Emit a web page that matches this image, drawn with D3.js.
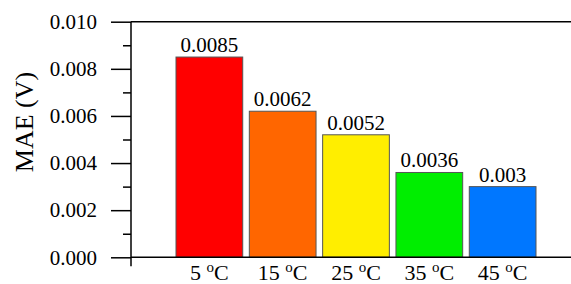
<!DOCTYPE html>
<html>
<head>
<meta charset="utf-8">
<script src="https://cdn.jsdelivr.net/npm/d3@7"></script>
<style>
    body { margin: 0; background: #fff; }
    text { font-family: "Liberation Serif", "Times New Roman", serif; fill: #000; }
    .axis-line { stroke: #000; stroke-width: 1.5; fill: none; }
    .bar { stroke: #555; stroke-width: 1; }
</style>
</head>
<body>
<div id="chart"></div>
<script>

// chart data
var temps = ["5", "15", "25", "35", "45"];
var mae = [0.0085, 0.0062, 0.0052, 0.0036, 0.003];
var valueLabels = ["0.0085", "0.0062", "0.0052", "0.0036", "0.003"];
var barColors = ["#ff0000", "#ff6600", "#ffee00", "#00ee00", "#0077ff"];
var yTicks = [0, 0.002, 0.004, 0.006, 0.008, 0.010];
var yMinorTicks = [0.001, 0.003, 0.005, 0.007, 0.009];

var width = 571,
    height = 284;

var svg = d3.select("#chart")
    .append("svg")
    .attr("width", width)
    .attr("height", height);

// scale functions
var xScale = d3.scaleBand()
    .domain(temps)
    .range([176, 536])
    .paddingInner(0.09)
    .paddingOuter(0);
var yScale = d3.scaleLinear()
    .domain([0, 0.010])
    .range([257.3, 21.7]);

var axisX = 131;

// bars
svg.selectAll(".bar")
    .data(mae)
    .enter().append("rect")
    .attr("class", "bar")
    .attr("x", function(d, i) { return xScale(temps[i]); })
    .attr("y", function(d) { return yScale(d); })
    .attr("width", xScale.bandwidth())
    .attr("height", function(d) { return yScale(0) - yScale(d); })
    .attr("fill", function(d, i) { return barColors[i]; });

// value labels on top of bars
svg.selectAll(".value-label")
    .data(mae)
    .enter().append("text")
    .attr("class", "value-label")
    .attr("x", function(d, i) { return xScale(temps[i]) + xScale.bandwidth() / 2; })
    .attr("y", function(d) { return yScale(d) - 5; })
    .attr("text-anchor", "middle")
    .style("font-size", "21px")
    .text(function(d, i) { return valueLabels[i]; });

// y axis with major ticks
var yAxis = d3.axisLeft(yScale)
    .tickValues(yTicks)
    .tickSize(20)
    .tickPadding(14)
    .tickFormat(d3.format(".3f"));
var gy = svg.append("g")
    .attr("transform", "translate(" + axisX + ",0)")
    .call(yAxis);
gy.select(".domain").remove();
gy.selectAll("line").attr("stroke", "#000").attr("stroke-width", 1.5);
gy.selectAll("text")
    .style("font-size", "21px")
    .attr("font-family", null);

// minor ticks
var yMinor = d3.axisLeft(yScale)
    .tickValues(yMinorTicks)
    .tickSize(8)
    .tickFormat("");
var gm = svg.append("g")
    .attr("transform", "translate(" + axisX + ",0)")
    .call(yMinor);
gm.select(".domain").remove();
gm.selectAll("line").attr("stroke", "#000").attr("stroke-width", 1.5);

// axis lines: left, bottom and top frame
svg.append("line")
    .attr("class", "axis-line")
    .attr("x1", axisX).attr("x2", axisX)
    .attr("y1", yScale(0.010)).attr("y2", yScale(0) + 9);
svg.append("line")
    .attr("class", "axis-line")
    .attr("x1", axisX).attr("x2", width)
    .attr("y1", yScale(0)).attr("y2", yScale(0));
svg.append("line")
    .attr("class", "axis-line")
    .attr("x1", axisX).attr("x2", width)
    .attr("y1", yScale(0.010)).attr("y2", yScale(0.010));

// x tick labels, degree sign drawn as superscript o
var xl = svg.selectAll(".x-label")
    .data(temps)
    .enter().append("text")
    .attr("class", "x-label")
    .attr("x", function(d) { return xScale(d) + xScale.bandwidth() / 2; })
    .attr("y", 280)
    .attr("text-anchor", "middle")
    .style("font-size", "22px");
xl.append("tspan").text(function(d) { return d + " "; });
xl.append("tspan").attr("dy", -8).style("font-size", "15px").text("o");
xl.append("tspan").attr("dy", 8).text("C");

// y axis title
svg.append("text")
    .attr("transform", "translate(33,122) rotate(-90)")
    .attr("text-anchor", "middle")
    .style("font-size", "26px")
    .text("MAE (V)");

</script>
</body>
</html>
